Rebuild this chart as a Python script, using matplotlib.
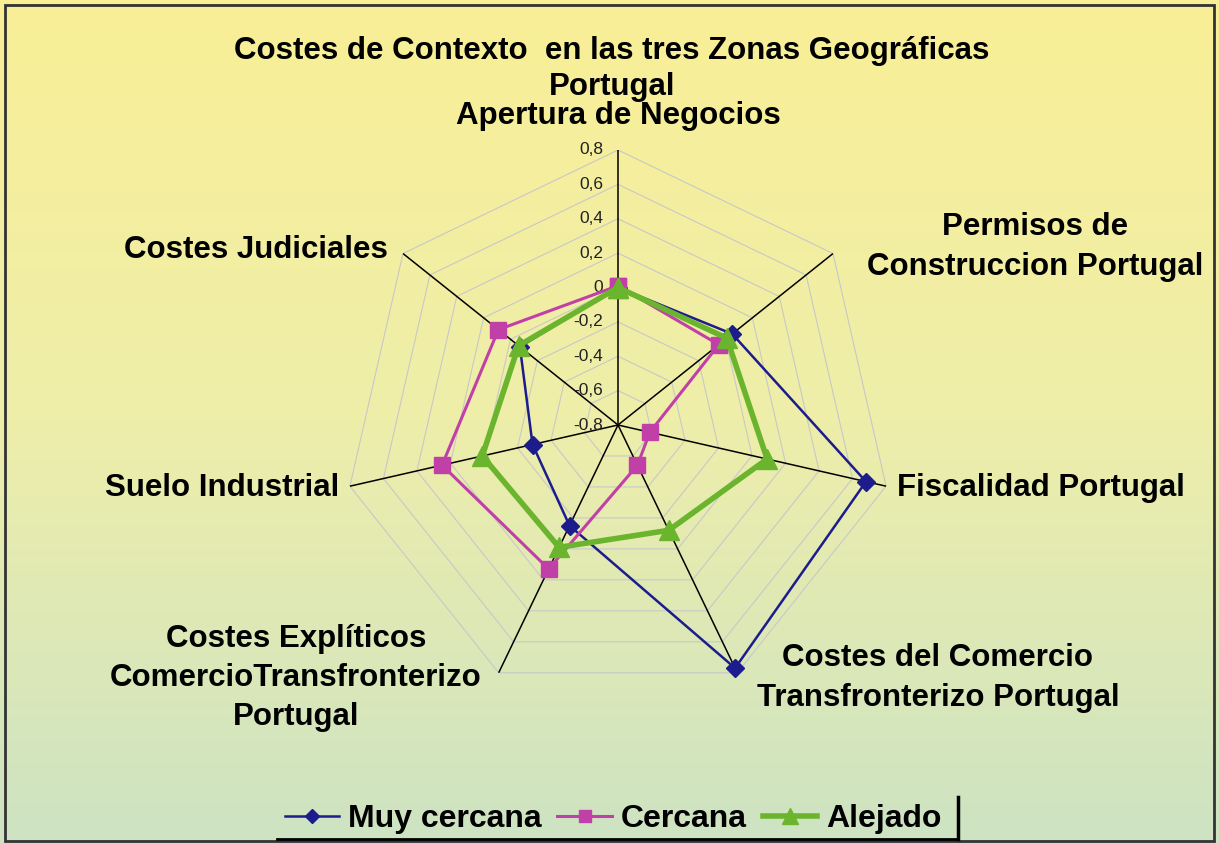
import numpy as np
import matplotlib
matplotlib.use("Agg")
import matplotlib.pyplot as plt
import matplotlib.transforms as mtransforms
from matplotlib.lines import Line2D
from matplotlib.patches import Rectangle
from matplotlib.colors import LinearSegmentedColormap

plt.rcParams['font.family'] = ['Liberation Sans', 'DejaVu Sans']

# data
categories = ["Apertura de Negocios",
              "Permisos de\nConstruccion Portugal",
              "Fiscalidad Portugal",
              "Costes del Comercio\nTransfronterizo Portugal",
              "Costes Explíticos\nComercioTransfronterizo\nPortugal",
              "Suelo Industrial",
              "Costes Judiciales"]
muy_cercana = [0.0, 0.05, 0.68, 0.77, -0.15, -0.29, -0.07]
cercana = [0.01, -0.05, -0.61, -0.54, 0.13, 0.25, 0.09]
alejado = [0.0, 0.01, 0.09, -0.12, -0.01, 0.01, -0.06]
series_names = ["Muy cercana", "Cercana", "Alejado"]
r_ticks = [-0.8, -0.6, -0.4, -0.2, 0, 0.2, 0.4, 0.6, 0.8]
r_labels = ["-0,8", "-0,6", "-0,4", "-0,2", "0", "0,2", "0,4", "0,6", "0,8"]

W, H = 1219, 843
fig = plt.figure(figsize=(W / 100, H / 100), dpi=100)

# gradient background
bg = fig.add_axes([0, 0, 1, 1], zorder=0)
cmap = LinearSegmentedColormap.from_list("bg", ["#F9EF96", "#EEEEAA", "#CDE3C3"])
grad = np.linspace(0, 1, 256).reshape(-1, 1)
bg.imshow(grad, cmap=cmap, aspect="auto", extent=[0, 1, 0, 1], origin="upper")
bg.set_axis_off()
fig.add_artist(Rectangle((5 / W, 2 / H), 1209 / W, 836 / H, transform=fig.transFigure,
                         fill=False, edgecolor="#333333", lw=2, zorder=5))

# radar axes
cx, cy, R = 618, 425, 275
ax = fig.add_axes([(cx - R) / W, (H - cy - R) / H, 2 * R / W, 2 * R / H],
                  projection="polar", zorder=2)
ax.set_facecolor("none")
ax.set_theta_offset(np.pi / 2)
ax.set_theta_direction(-1)
ax.set_ylim(-0.8, 0.8)
ax.grid(False)
ax.spines["polar"].set_visible(False)
ax.set_xticks([])
ax.set_yticks([])

n = len(categories)
angles = np.arange(n) * 2 * np.pi / n
closed = np.append(angles, angles[0])

for r in r_ticks[1:]:
    ax.plot(closed, [r] * (n + 1), color="#C8C8C8", lw=0.8, zorder=1)
for a in angles:
    ax.plot([a, a], [-0.8, 0.8], color="black", lw=1.1, zorder=2)

lab_tr = mtransforms.offset_copy(ax.transData, fig=fig, x=-15, y=0, units="dots")
for r, lab in zip(r_ticks, r_labels):
    ax.text(0, r, lab, transform=lab_tr, ha="right", va="center", fontsize=12.5, color="#222222")

styles = [
    dict(color="#1C1C8C", lw=1.8, marker="D", ms=9),
    dict(color="#C040A8", lw=2.2, marker="s", ms=11),
    dict(color="#6AB42E", lw=4.0, marker="^", ms=14),
]
for vals, name, st in zip([muy_cercana, cercana, alejado], series_names, styles):
    ax.plot(closed, vals + vals[:1], label=name, zorder=4, clip_on=False, **st)

# titles and category labels
fig.text(612 / W, 1 - 69 / H, "Costes de Contexto  en las tres Zonas Geográficas\nPortugal",
         ha="center", va="center", fontsize=22.5, fontweight="bold", linespacing=1.3)
lab_pos = [(618, 116, "center"), (1035, 247, "center"), (897, 488, "left"),
           (938, 678, "center"), (296, 678, "center"), (339, 488, "right"),
           (256, 250, "center")]
for (x, y, ha), txt in zip(lab_pos, categories):
    fig.text(x / W, 1 - y / H, txt, ha=ha, va="center", fontsize=22.5,
             fontweight="bold", linespacing=1.4, multialignment="center")

handles, labels = ax.get_legend_handles_labels()
fig.legend(handles, labels, loc="center", bbox_to_anchor=(613 / W, 1 - 819 / H), ncol=3,
           frameon=False, prop={"weight": "bold", "size": 23},
           handlelength=1.7, handletextpad=0.28, columnspacing=0.5, markerscale=0.8)
fig.add_artist(Line2D([277 / W, 958 / W], [1 - 839 / H, 1 - 839 / H],
                      transform=fig.transFigure, color="black", lw=2, zorder=6))
fig.add_artist(Line2D([958 / W, 958 / W], [1 - 797 / H, 1 - 839 / H],
                      transform=fig.transFigure, color="black", lw=2.5, zorder=6))

fig.savefig("out.png", dpi=100)
